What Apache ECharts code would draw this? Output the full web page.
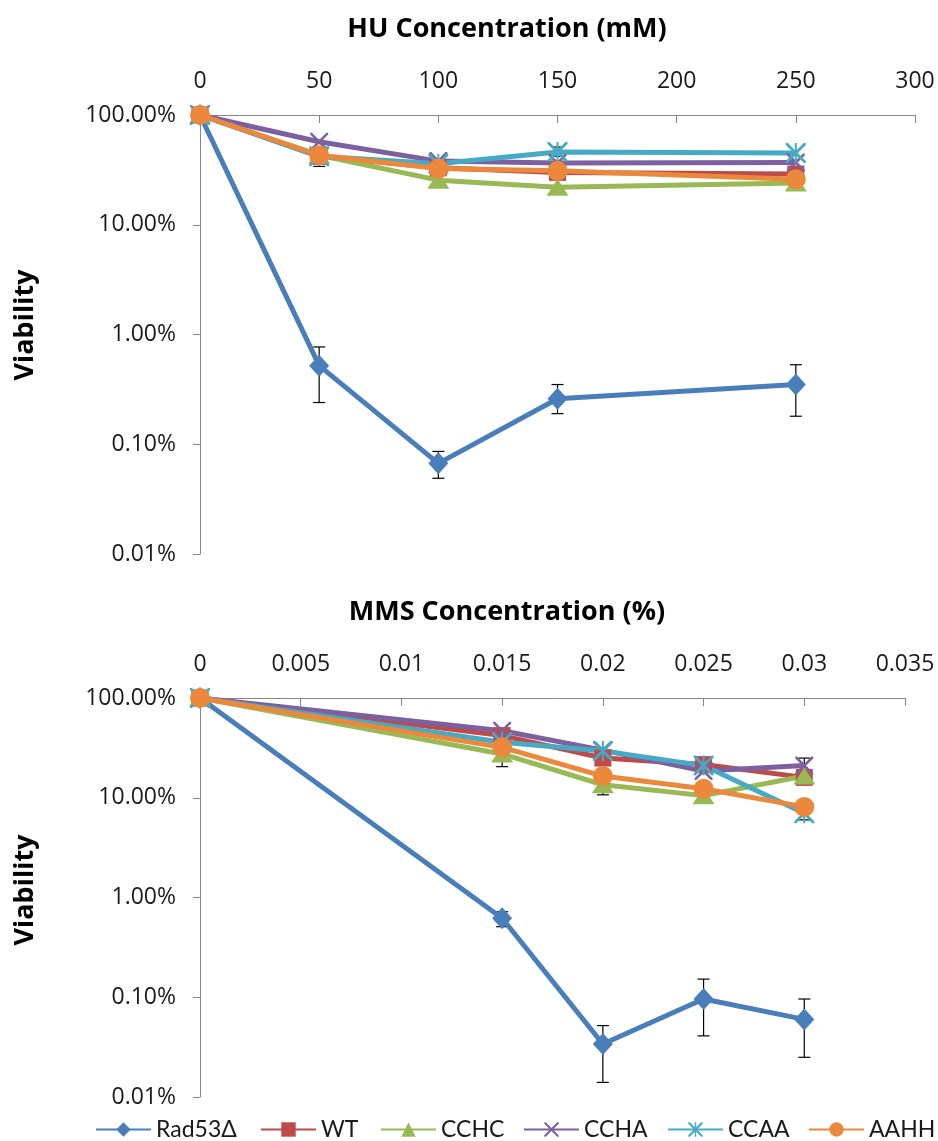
<!DOCTYPE html>
<html><head><meta charset="utf-8">
<script src="https://cdn.jsdelivr.net/npm/echarts@6/dist/echarts.min.js"></script>
<style>html,body{margin:0;padding:0;background:#fff}#c{width:938px;height:1141px}</style>
</head><body><div id="c"></div>
<script>
// ---------- data ----------
const seriesNames = ['Rad53Δ', 'WT', 'CCHC', 'CCHA', 'CCAA', 'AAHH'];

// HU panel (x in mM, viability in %)
const huX = [0, 50, 100, 150, 250];
const huRad53 = [100, 0.52, 0.067, 0.26, 0.35];
const huWT    = [100, 42, 33, 30, 29];
const huCCHC  = [100, 43, 25.5, 22, 24];
const huCCHA  = [100, 57, 38, 36.5, 37];
const huCCAA  = [100, 42, 36, 46, 45];
const huAAHH  = [100, 43, 32.5, 31, 26];
const huRad53Lo = [null, 0.24, 0.049, 0.19, 0.18];
const huRad53Hi = [null, 0.77, 0.086, 0.35, 0.53];
const huWTLo    = [null, 34, null, null, null];
const huWTHi    = [null, 50, null, null, null];
const huCCAALo  = [null, null, null, 42, null];
const huCCAAHi  = [null, null, null, 51, null];

// MMS panel (x in %, viability in %)
const mmsX = [0, 0.015, 0.02, 0.025, 0.03];
const mmsRad53 = [100, 0.62, 0.034, 0.096, 0.06];
const mmsWT    = [100, 42, 25, 21.5, 16];
const mmsCCHC  = [100, 27.5, 13.5, 10.5, 16.5];
const mmsCCHA  = [100, 47, 30, 18.5, 21];
const mmsCCAA  = [100, 36, 29.5, 21, 7];
const mmsAAHH  = [100, 32, 16.5, 12.3, 8.1];
const mmsRad53Lo = [null, 0.51, 0.014, 0.041, 0.025];
const mmsRad53Hi = [null, 0.72, 0.052, 0.152, 0.096];
const mmsCCHCLo  = [null, 20.5, 10.7, null, null];
const mmsCCHCHi  = [null, 34, 16, null, null];
const mmsCCHALo  = [null, null, null, null, 18];
const mmsCCHAHi  = [null, null, null, null, 25];
const mmsCCAALo  = [null, null, null, null, 6];
const mmsCCAAHi  = [null, null, null, null, 8];

// axis ranges / ticks
const huXMin = 0, huXMax = 300, huXStep = 50;
const mmsXMin = 0, mmsXMax = 0.035, mmsXStep = 0.005;
const yMin = 0.01, yMax = 100;

// ---------- styling ----------
const colors = ['#4a7ebb', '#be4b48', '#98b954', '#7d60a0', '#46aac5', '#ec883b'];
const pathX = 'path://M0,0 L2,0 L10,8 L18,0 L20,0 L20,2 L12,10 L20,18 L20,20 L18,20 L10,12 L2,20 L0,20 L0,18 L8,10 L0,2 Z';
const pathStar = 'path://M0,0 L2,0 L10,8 L18,0 L20,0 L20,2 L12,10 L20,18 L20,20 L18,20 L10,12 L2,20 L0,20 L0,18 L8,10 L0,2 Z M9,0 L11,0 L11,20 L9,20 Z';
const symbols = ['diamond', 'rect', 'triangle', pathX, pathStar, 'circle'];
const symbolSizes = [[20, 22], 17, [22, 17], 18, 20, 20];
const FONT = 'Open Sans';
const LFONT = 'Lato';
const TXT = '#1a1a1a';
const AX = '#868686';

function zip(xs, ys) { return xs.map((x, i) => [x, ys[i]]); }
function errPts(xs, lo, hi) {
  const out = [];
  xs.forEach((x, i) => { if (lo[i] != null) out.push([x, lo[i], hi[i]]); });
  return out;
}
function renderErr(params, api) {
  const p1 = api.coord([api.value(0), api.value(1)]);
  const p2 = api.coord([api.value(0), api.value(2)]);
  const w = 6;
  const st = { stroke: '#000', lineWidth: 1.2 };
  return { type: 'group', children: [
    { type: 'line', shape: { x1: p1[0], y1: p1[1], x2: p2[0], y2: p2[1] }, style: st },
    { type: 'line', shape: { x1: p1[0] - w, y1: p1[1], x2: p1[0] + w, y2: p1[1] }, style: st },
    { type: 'line', shape: { x1: p2[0] - w, y1: p2[1], x2: p2[0] + w, y2: p2[1] }, style: st }
  ]};
}

function lineSeries(name, idx, xs, ys, axisIdx) {
  return {
    type: 'line', name: name, xAxisIndex: axisIdx, yAxisIndex: axisIdx,
    data: zip(xs, ys),
    symbol: symbols[idx], symbolSize: symbolSizes[idx],
    lineStyle: { color: colors[idx], width: 5 },
    itemStyle: { color: colors[idx] },
    z: 3
  };
}

function xAxisCfg(grid, min, max, step) {
  return {
    gridIndex: grid, type: 'value', position: 'top', min: min, max: max, interval: step,
    axisLine: { show: true, onZero: false, lineStyle: { color: AX, width: 1 } },
    axisTick: { show: true, inside: true, length: 8, lineStyle: { color: AX } },
    axisLabel: { margin: 22, fontSize: 23, fontFamily: FONT, color: TXT },
    splitLine: { show: false }
  };
}
function yAxisCfg(grid) {
  return {
    gridIndex: grid, type: 'log', logBase: 10, min: yMin, max: yMax,
    axisLine: { show: true, lineStyle: { color: AX, width: 1 } },
    axisTick: { show: true, length: 7, lineStyle: { color: AX } },
    axisLabel: { margin: 24, fontSize: 23, fontFamily: FONT, color: TXT,
      formatter: v => Number(v).toFixed(2) + '%' },
    splitLine: { show: false }, minorTick: { show: false }
  };
}

const huSets = [huRad53, huWT, huCCHC, huCCHA, huCCAA, huAAHH];
const mmsSets = [mmsRad53, mmsWT, mmsCCHC, mmsCCHA, mmsCCAA, mmsAAHH];

const series = [
  { type: 'custom', xAxisIndex: 0, yAxisIndex: 0, renderItem: renderErr, z: 2,
    encode: { x: 0, y: [1, 2] },
    data: [].concat(errPts(huX, huRad53Lo, huRad53Hi), errPts(huX, huWTLo, huWTHi), errPts(huX, huCCAALo, huCCAAHi)) },
  { type: 'custom', xAxisIndex: 1, yAxisIndex: 1, renderItem: renderErr, z: 2,
    encode: { x: 0, y: [1, 2] },
    data: [].concat(errPts(mmsX, mmsRad53Lo, mmsRad53Hi), errPts(mmsX, mmsCCHCLo, mmsCCHCHi),
                    errPts(mmsX, mmsCCHALo, mmsCCHAHi), errPts(mmsX, mmsCCAALo, mmsCCAAHi)) }
];
seriesNames.forEach((n, i) => series.push(lineSeries(n, i, huX, huSets[i], 0)));
seriesNames.forEach((n, i) => series.push(lineSeries(n, i, mmsX, mmsSets[i], 1)));

const legendLefts = [95, 260, 380, 523, 667, 808];
const legends = seriesNames.map((n, i) => ({
  data: [n], left: legendLefts[i], top: 1118, orient: 'horizontal',
  itemWidth: 55, itemHeight: 18, selectedMode: false, padding: 0,
  textStyle: { fontSize: 23, fontFamily: LFONT, color: TXT }
}));

const titleStyle = { fontSize: 27, fontWeight: 'bold', fontFamily: FONT, fill: '#000', align: 'center', verticalAlign: 'middle' };

const option = {
  animation: false,
  backgroundColor: '#fff',
  grid: [
    { left: 200, top: 115, width: 715, height: 439 },
    { left: 200, top: 698, width: 705, height: 399 }
  ],
  xAxis: [xAxisCfg(0, huXMin, huXMax, huXStep), xAxisCfg(1, mmsXMin, mmsXMax, mmsXStep)],
  yAxis: [yAxisCfg(0), yAxisCfg(1)],
  legend: legends,
  graphic: [
    { type: 'text', x: 507, y: 29, style: Object.assign({ text: 'HU Concentration (mM)' }, titleStyle) },
    { type: 'text', x: 507, y: 612, style: Object.assign({ text: 'MMS Concentration (%)' }, titleStyle) },
    { type: 'text', x: 25, y: 325, rotation: Math.PI / 2, style: Object.assign({ text: 'Viability' }, titleStyle) },
    { type: 'text', x: 25, y: 890, rotation: Math.PI / 2, style: Object.assign({ text: 'Viability' }, titleStyle) }
  ],
  series: series
};

const chart = echarts.init(document.getElementById('c'), null, { renderer: 'canvas' });
chart.setOption(option);
</script>
</body></html>
